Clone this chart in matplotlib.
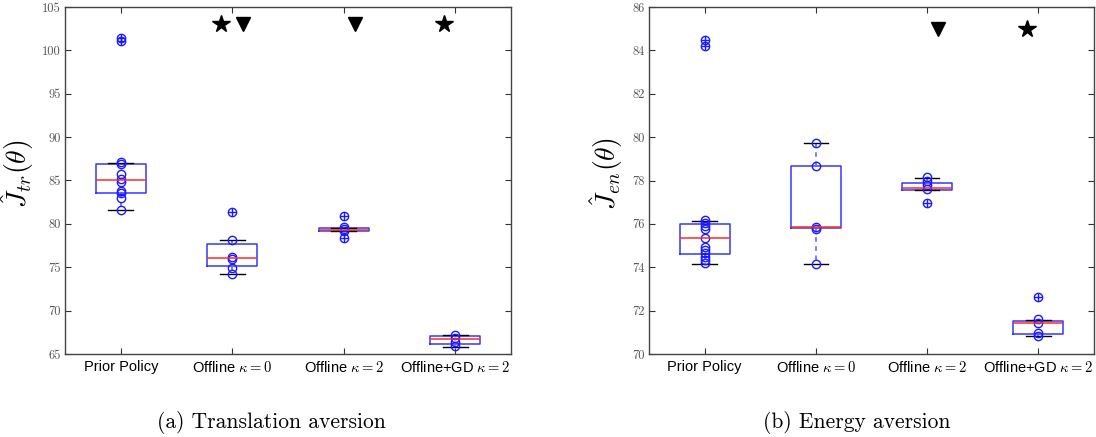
import matplotlib
matplotlib.use("Agg")
import matplotlib.pyplot as plt

plt.rcParams['mathtext.fontset'] = 'cm'

groups = ['Prior Policy', r'Offline $\kappa = 0$', r'Offline $\kappa = 2$', r'Offline+GD $\kappa = 2$']

# (a) translation aversion: box stats
tr_q1 = [83.6, 75.15, 79.14, 66.12]
tr_med = [85.1, 76.07, 79.34, 66.75]
tr_q3 = [86.95, 77.65, 79.52, 67.11]
tr_lo = [81.57, 74.22, 79.14, 65.84]
tr_hi = [87.0, 78.1, 79.52, 67.2]
tr_points = [
    [101.4, 101.1, 87.1, 86.95, 85.8, 85.2, 84.8, 83.8, 83.55, 83.0, 81.57],
    [81.4, 78.1, 76.22, 75.95, 74.88, 74.22],
    [80.91, 79.67, 79.37, 79.2, 78.35],
    [67.23, 66.82, 66.35, 65.96],
]
tr_out = [[101.4, 101.1], [81.4], [80.91, 78.35], []]
tr_star = [1.9, 3.9]
tr_tri = [2.1, 3.1]
tr_mark_y = 103

# (b) energy aversion
en_q1 = [74.62, 75.81, 77.56, 70.92]
en_med = [75.35, 75.84, 77.64, 71.41]
en_q3 = [75.98, 78.68, 77.87, 71.54]
en_lo = [74.15, 74.16, 77.56, 70.85]
en_hi = [76.12, 79.75, 78.1, 71.58]
en_points = [
    [84.5, 84.2, 76.18, 76.05, 75.9, 75.75, 75.36, 74.92, 74.8, 74.64, 74.49, 74.33, 74.18],
    [79.75, 78.68, 75.87, 75.78, 74.16],
    [78.17, 77.99, 77.79, 77.59, 76.98],
    [72.64, 71.6, 71.44, 70.98, 70.85],
]
en_out = [[84.5, 84.2], [], [76.98], [72.64]]
en_star = [3.9]
en_tri = [3.1]
en_mark_y = 85

fig = plt.figure(figsize=(10.96, 4.37), dpi=100)
ax1 = fig.add_axes([65 / 1096, 1 - 354 / 437, 446 / 1096, 347 / 437])
ax2 = fig.add_axes([649 / 1096, 1 - 354 / 437, 445 / 1096, 347 / 437])


def draw(ax, q1, med, q3, lo, hi, points, outs, stars, tris, mark_y, ylim, yticks, ylabel, lab_x):
    stats = []
    for i in range(len(groups)):
        stats.append(dict(q1=q1[i], med=med[i], q3=q3[i], whislo=lo[i], whishi=hi[i], fliers=[]))
    ax.bxp(stats, positions=range(1, 5), widths=0.45, showfliers=False,
           boxprops=dict(color='#3535ff', lw=1.1),
           whiskerprops=dict(color='#5a5aff', lw=1.1, ls=(0, (3, 3))),
           capprops=dict(color='black', lw=1.0),
           medianprops=dict(color='#ff2a2a', lw=1.1),
           capwidths=0.22)
    for i in range(len(groups)):
        ax.plot([i + 1] * len(points[i]), points[i], 'o', mfc='none', mec='#1a1aff', ms=6, mew=1.0)
        if outs[i]:
            ax.plot([i + 1] * len(outs[i]), outs[i], '+', color='#1a1aff', ms=6, mew=1.0)
    ax.plot(stars, [mark_y] * len(stars), '*', color='black', ms=13)
    ax.plot(tris, [mark_y] * len(tris), 'v', color='black', ms=10)
    ax.set_xlim(0.5, 4.5)
    ax.set_ylim(*ylim)
    ax.set_yticks(yticks)
    ax.set_xticks(range(1, 5))
    ax.set_xticklabels(groups, fontsize=10.5, family='Liberation Sans')
    for lab in ax.get_yticklabels():
        lab.set_family('cmr10')
        lab.set_fontsize(9)
        lab.set_color('#555555')
    ax.tick_params(direction='in', top=True, right=True, length=4, color='#333333', pad=3)
    ax.tick_params(axis='x', pad=4)
    for s in ax.spines.values():
        s.set_color('#444444')
        s.set_linewidth(1.0)
    ax.set_ylabel(ylabel, fontsize=20)
    ax.yaxis.set_label_coords(lab_x, 0.52)


draw(ax1, tr_q1, tr_med, tr_q3, tr_lo, tr_hi, tr_points, tr_out, tr_star, tr_tri, tr_mark_y,
     (65, 105), range(65, 106, 5), r'$\hat{J}_{tr}(\theta)$', -0.065)
draw(ax2, en_q1, en_med, en_q3, en_lo, en_hi, en_points, en_out, en_star, en_tri, en_mark_y,
     (70, 86), range(70, 87, 2), r'$\hat{J}_{en}(\theta)$', -0.055)

fig.text(271 / 1096, 1 - 423 / 437, '(a) Translation aversion', family='cmr10', fontsize=15.5, ha='center', va='center')
fig.text(857 / 1096, 1 - 423 / 437, '(b) Energy aversion', family='cmr10', fontsize=15.5, ha='center', va='center')

fig.savefig('out.png', dpi=100)
